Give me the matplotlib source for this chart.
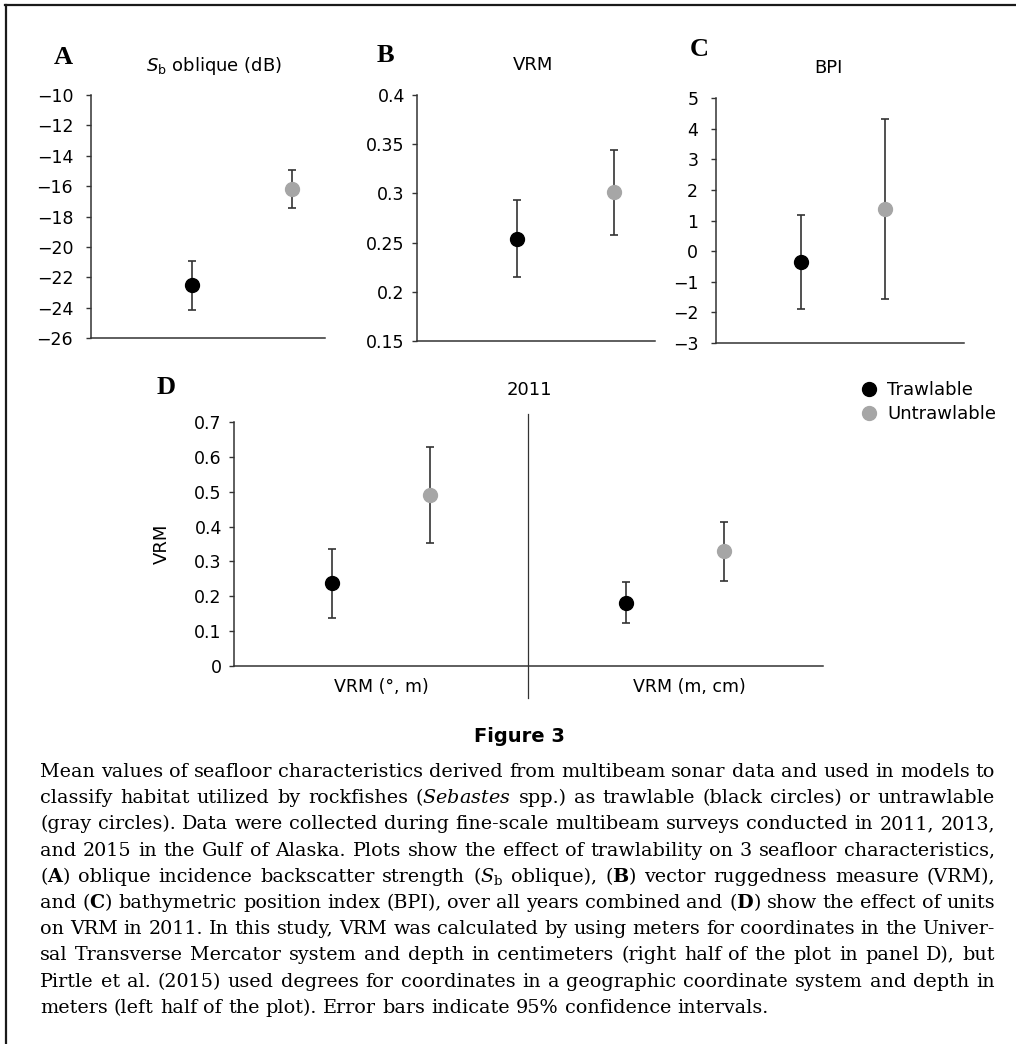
import matplotlib
matplotlib.use('Agg')
import matplotlib.pyplot as plt
from matplotlib.lines import Line2D
from matplotlib.ticker import FuncFormatter

plt.rcParams['font.family'] = 'DejaVu Sans'
plt.rcParams['mathtext.fontset'] = 'dejavusans'
plt.rcParams['axes.unicode_minus'] = True

W, H = 1016, 1044

# data (Trawlable, Untrawlable)
groups = ['Trawlable', 'Untrawlable']
colors = ['#000000', '#a6a6a6']

sb_mean = [-22.54, -16.18]
sb_lo = [-24.14, -17.46]
sb_hi = [-20.9, -14.96]

vrm_mean = [0.254, 0.301]
vrm_lo = [0.215, 0.258]
vrm_hi = [0.293, 0.344]

bpi_mean = [-0.35, 1.38]
bpi_lo = [-1.9, -1.56]
bpi_hi = [1.19, 4.31]

# panel D, 2011: left half VRM (°, m), right half VRM (m, cm)
d_units = ['VRM (°, m)', 'VRM (m, cm)']
d_mean = [[0.238, 0.492], [0.181, 0.329]]
d_lo = [[0.138, 0.354], [0.122, 0.245]]
d_hi = [[0.337, 0.629], [0.241, 0.412]]

caption_lines = [
    "Mean values of seafloor characteristics derived from multibeam sonar data and used in models to",
    "classify habitat utilized by rockfishes ($\\mathit{Sebastes}$ spp.) as trawlable (black circles) or untrawlable",
    "(gray circles). Data were collected during fine-scale multibeam surveys conducted in 2011, 2013,",
    "and 2015 in the Gulf of Alaska. Plots show the effect of trawlability on 3 seafloor characteristics,",
    "($\\mathbf{A}$) oblique incidence backscatter strength ($\\mathit{S}_\\mathrm{b}$ oblique), ($\\mathbf{B}$) vector ruggedness measure (VRM),",
    "and ($\\mathbf{C}$) bathymetric position index (BPI), over all years combined and ($\\mathbf{D}$) show the effect of units",
    "on VRM in 2011. In this study, VRM was calculated by using meters for coordinates in the Univer-",
    "sal Transverse Mercator system and depth in centimeters (right half of the plot in panel D), but",
    "Pirtle et al. (2015) used degrees for coordinates in a geographic coordinate system and depth in",
    "meters (left half of the plot). Error bars indicate 95% confidence intervals.",
]


def fx(px):
    return px / W


def fy(py):
    return 1 - py / H


def box(l, t, r, b):
    return [fx(l), fy(b), fx(r) - fx(l), fy(t) - fy(b)]


def style(ax, pad):
    for s in ['top', 'right']:
        ax.spines[s].set_visible(False)
    for s in ['left', 'bottom']:
        ax.spines[s].set_color('#333333')
        ax.spines[s].set_linewidth(1.1)
    ax.tick_params(axis='y', direction='out', length=3.8, width=1.0,
                   color='#333333', labelsize=12.5, pad=pad)
    ax.tick_params(axis='x', length=0)
    ax.set_xticks([])


def dots(ax, xs, mean, lo, hi):
    for x, m, l, h, c in zip(xs, mean, lo, hi, colors):
        ax.errorbar([x], [m], yerr=[[m - l], [h - m]], fmt='none',
                    ecolor='#333333', elinewidth=1.2, capsize=2.6, capthick=1.2)
        ax.plot([x], [m], 'o', color=c, markersize=10, mec=c, zorder=3)


gfmt = FuncFormatter(lambda v, p: ('%g' % v).replace('-', '\u2212'))

fig = plt.figure(figsize=(W / 100, H / 100), dpi=100)

# A
axA = fig.add_axes(box(91, 95, 325, 338))
dots(axA, [1, 2], sb_mean, sb_lo, sb_hi)
axA.set_ylim(-26, -10)
axA.set_yticks(range(-26, -9, 2))
axA.set_xlim(-0.01, 2.33)
style(axA, 9)
axA.yaxis.set_major_formatter(gfmt)

# B
axB = fig.add_axes(box(417, 95, 655, 341))
dots(axB, [1, 2], vrm_mean, vrm_lo, vrm_hi)
axB.set_ylim(0.15, 0.4)
axB.set_yticks([0.15, 0.2, 0.25, 0.3, 0.35, 0.4])
axB.set_xlim(-0.03, 2.42)
style(axB, 5)
axB.yaxis.set_major_formatter(gfmt)

# C
axC = fig.add_axes(box(716, 98, 964, 343))
dots(axC, [1, 2], bpi_mean, bpi_lo, bpi_hi)
axC.set_ylim(-3, 5)
axC.set_yticks(range(-3, 6))
axC.set_xlim(-0.01, 2.94)
style(axC, 9)
axC.yaxis.set_major_formatter(gfmt)

# D
axD = fig.add_axes(box(234, 422, 823, 666))
dots(axD, [1, 2], d_mean[0], d_lo[0], d_hi[0])
dots(axD, [4, 5], d_mean[1], d_lo[1], d_hi[1])
axD.set_ylim(0, 0.7)
axD.set_yticks([0, 0.1, 0.2, 0.3, 0.4, 0.5, 0.6, 0.7])
axD.set_xlim(0, 6.01)
style(axD, 5)
axD.yaxis.set_major_formatter(gfmt)
axD.set_xticks([1.5, 4.65])
axD.set_xticklabels(d_units, fontsize=12.5)
axD.tick_params(axis='x', length=0, pad=9)
axD.plot([3, 3], [-0.092, 0.722], color='#333333', lw=0.9, clip_on=False)
axD.set_ylabel('VRM', fontsize=13)
axD.yaxis.set_label_coords((171 - 234) / 589, 0.5)

# panel letters and titles
for lab, x, y in [('A', 63, 58), ('B', 385, 55), ('C', 699, 50), ('D', 166, 387)]:
    fig.text(fx(x), fy(y), lab, family='Liberation Serif', fontweight='bold',
             fontsize=19, ha='center', va='center')
for t, x, y in [('$\\mathit{S}_\\mathrm{b}$ oblique (dB)', 214, 66), ('VRM', 533, 65),
                ('BPI', 828, 68), ('2011', 529, 390)]:
    fig.text(fx(x), fy(y), t, fontsize=13, ha='center', va='center')

# legend
handles = [Line2D([], [], marker='o', ls='none', color=c, mec=c, markersize=10) for c in colors]
fig.legend(handles, groups, loc='upper left', bbox_to_anchor=(fx(862), fy(381)),
           frameon=False, fontsize=13, handlelength=0.8, handletextpad=0.6,
           labelspacing=0.35, borderpad=0, borderaxespad=0)

# frame
fig.add_artist(Line2D([fx(5), 1], [fy(5), fy(5)], color='#1a1a1a', lw=1.6))
fig.add_artist(Line2D([fx(6), fx(6)], [fy(5), 0], color='#1a1a1a', lw=1.6))

# caption, justified by hand
fig.text(fx(519), fy(736), 'Figure 3', fontsize=14, fontweight='bold', ha='center', va='center')

renderer = fig.canvas.get_renderer()
left, right = 40, 995
base0, step = 777, 26.2
cap_fs = 13.8


def measure(word):
    t = fig.text(0, 0, word, family='DejaVu Serif', fontsize=cap_fs, math_fontfamily='dejavuserif')
    w = t.get_window_extent(renderer).width
    t.remove()
    return w


space = measure('a a') - 2 * measure('a')

for i, line in enumerate(caption_lines):
    ws = line.split(' ')
    widths = [measure(w) for w in ws]
    if i < len(caption_lines) - 1:
        gap = max(((right - left) - sum(widths)) / (len(ws) - 1), 0.4 * space)
    else:
        gap = space
    x = left
    for w, wd in zip(ws, widths):
        fig.text(fx(x), fy(base0 + step * i), w, family='DejaVu Serif', fontsize=cap_fs,
                 math_fontfamily='dejavuserif', ha='left', va='baseline')
        x += wd + gap

fig.savefig('out.png', dpi=100)
